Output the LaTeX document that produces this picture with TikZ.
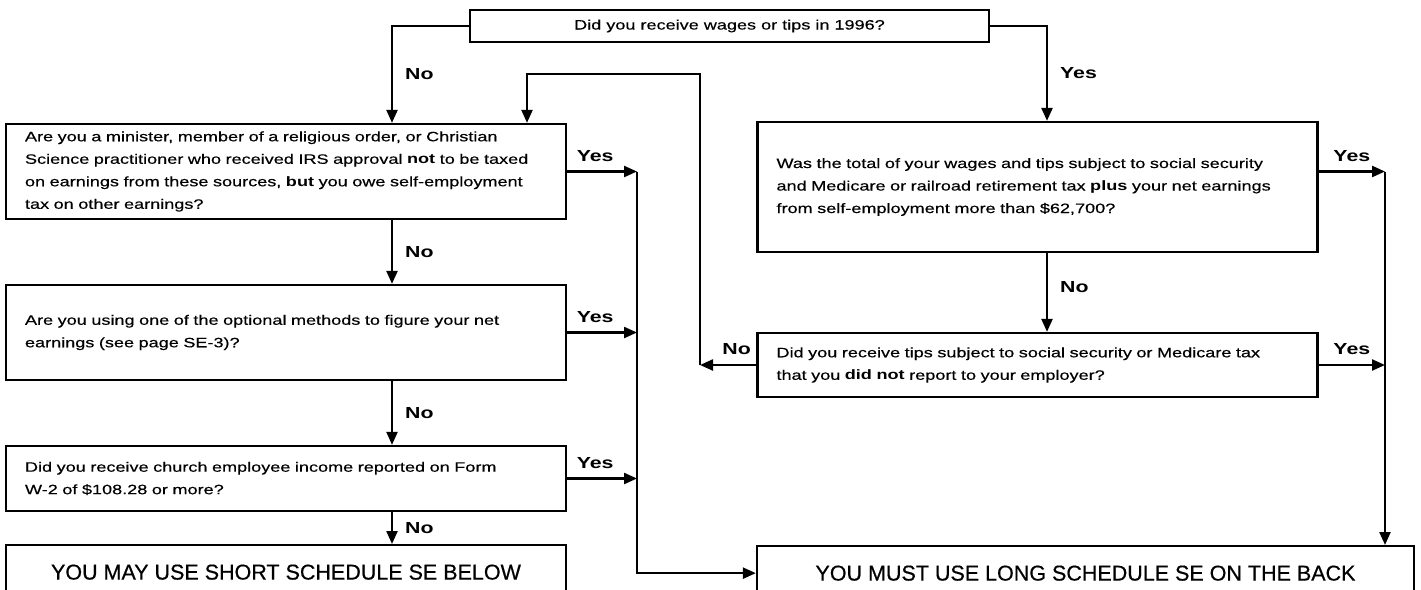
\documentclass[tikz,border=0pt]{standalone}
\usepackage{fontspec}
\setmainfont{Liberation Sans}[UprightFeatures={FakeBold=0.5}]
\newfontfamily\formfont{Liberation Sans}[FakeStretch=1.33,UprightFeatures={FakeBold=0.4}]
\usetikzlibrary{arrows.meta}

\begin{document}
\begin{tikzpicture}[x=1pt,y=-1pt,>={Triangle[length=13pt,width=11pt]},line width=2.3pt,
        qtext/.style={font=\formfont\fontsize{13.6}{22.5}\selectfont},
        qbox/.style={draw,rectangle,qtext,minimum width=560pt,text width=522pt,inner xsep=19pt,align=left},
        endbox/.style={draw,rectangle,anchor=north,minimum height=54pt,font=\fontsize{21.5}{24}\selectfont},
        lbl/.style={font=\formfont\bfseries\fontsize{16}{18}\selectfont,inner sep=2pt}]
    \useasboundingbox (0,0) rectangle (1421,589);
    \clip (0,0) rectangle (1421,589);

    \node[draw,qtext,minimum width=519pt,minimum height=32pt] (wages) at (729.5,26) {Did you receive wages or tips in 1996?};

    \node[qbox,minimum height=95pt] (minister) at (286,171.5)
        {Are you a minister, member of a religious order, or Christian\\
         Science practitioner who received IRS approval \textbf{not} to be taxed\\
         on earnings from these sources, \textbf{but} you owe self-employment\\
         tax on other earnings?};
    \node[qbox,minimum height=95pt] (optional) at (286,332.5)
        {Are you using one of the optional methods to figure your net\\
         earnings (see page SE-3)?};
    \node[qbox,minimum height=65pt] (church) at (286,478.5)
        {Did you receive church employee income reported on Form\\
         W-2 of \$108.28 or more?};
    \node[endbox,minimum width=560pt] (short) at (286,544) {YOU MAY USE SHORT SCHEDULE SE BELOW};

    \node[qbox,minimum height=130pt] (total) at (1037.5,187)
        {Was the total of your wages and tips subject to social security\\
         and Medicare or railroad retirement tax \textbf{plus} your net earnings\\
         from self-employment more than \$62,700?};
    \node[qbox,minimum height=64pt] (tips) at (1037.5,365)
        {Did you receive tips subject to social security or Medicare tax\\
         that you \textbf{did not} report to your employer?};
    \node[endbox,minimum width=657pt] (long) at (1085.5,545) {YOU MUST USE LONG SCHEDULE SE ON THE BACK};

    \coordinate (lcol) at (392,0);
    \coordinate (rcol) at (1047,0);
    \coordinate (lbus) at (637,0);
    \coordinate (rbus) at (1385,0);
    \coordinate (looptop) at (700,74);
    \coordinate (loopin) at (527,74);

    \begin{scope}[every node/.style={lbl}]
        \draw[->] (wages.west) -| node[pos=.75,right=10pt] {No} (lcol |- minister.north);
        \draw[->] (wages.east) -| node[pos=.75,right=10pt] {Yes} (rcol |- total.north);
        \draw[->] (lcol |- minister.south) -- node[right=10pt] {No} (lcol |- optional.north);
        \draw[->] (lcol |- optional.south) -- node[right=10pt] {No} (lcol |- church.north);
        \draw[->] (lcol |- church.south) -- node[right=10pt] {No} (lcol |- short.north);
        \draw[->] (minister.east) -- node[pos=.4,above=7pt] {Yes} (lbus |- minister.east);
        \draw[->] (optional.east) -- node[pos=.4,above=7pt] {Yes} (lbus |- optional.east);
        \draw[->] (church.east) -- node[pos=.4,above=7pt] {Yes} (lbus |- church.east);
        \draw[->] (lbus |- minister.east) |- (long.west);
        \draw[->] (total.east |- minister.east) -- node[above=7pt] {Yes} (rbus |- minister.east);
        \draw[->] (tips.east) -- node[above=7pt] {Yes} (rbus |- tips.east);
        \draw[->] (rbus |- minister.east) -- (rbus |- long.north);
        \draw[->] (rcol |- total.south) -- node[pos=.43,right=10pt] {No} (rcol |- tips.north);
        \draw[->] (tips.west) -- node[pos=.35,above=7pt] {No} (looptop |- tips.west);
        \draw[->] (looptop |- tips.west) -- (looptop) -- (loopin) -- (loopin |- minister.north);
    \end{scope}
\end{tikzpicture}
\end{document}
